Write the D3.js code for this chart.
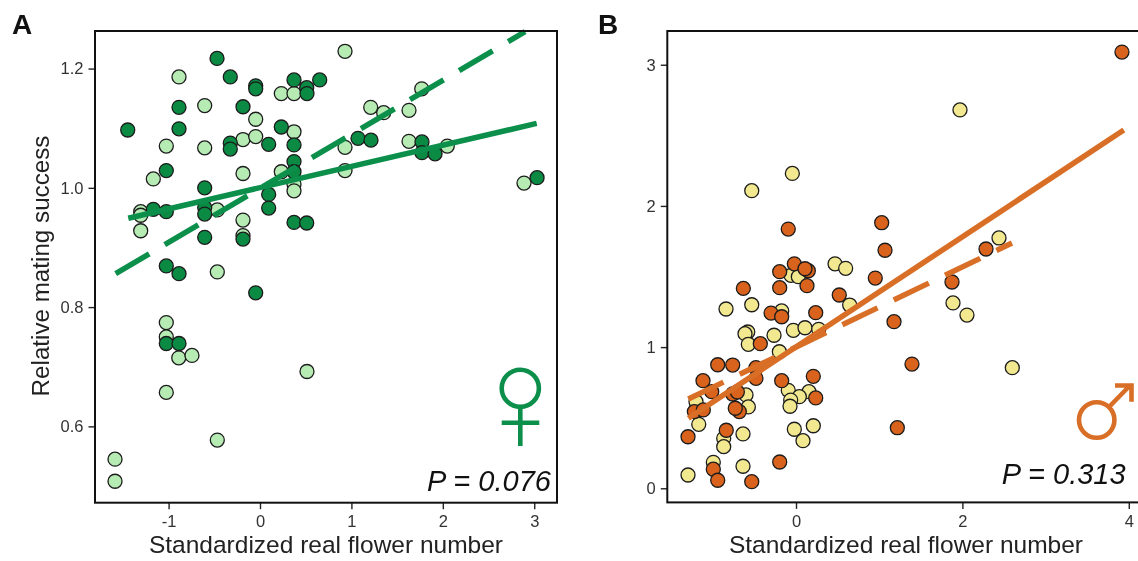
<!DOCTYPE html>
<html><head><meta charset="utf-8">
<script src="https://cdn.jsdelivr.net/npm/d3@7"></script>
<style>html,body{margin:0;padding:0;background:#fff;overflow:hidden}text{font-family:"Liberation Sans",Arial,sans-serif}svg{filter:blur(.35px)}</style>
</head><body><div id="c"></div>
<script>
const xTicksA=[-1,0,1,2,3], yTicksA=[0.6,0.8,1.0,1.2];
const xTicksB=[0,2,4], yTicksB=[0,1,2,3];
const xTitle="Standardized real flower number", yTitle="Relative mating success";

const femaleLight=[[-.886,1.186],[-.605,1.138],[-.047,1.115],[.233,1.158],[.372,1.158],[.372,1.094],[-.186,1.081],[-.047,1.086],[-1.025,1.07],[-.605,1.067],[-.186,1.024],[-1.167,1.015],[.233,1.027],[.372,1.006],[.372,.995],[-1.305,.96],[-1.305,.954],[-.467,.963],[-1.305,.928],[-.186,.946],[-.186,.92],[.93,1.229],[.93,1.068],[.93,1.029],[1.211,1.135],[1.353,1.126],[1.63,1.13],[1.769,1.166],[1.63,1.078],[2.049,1.07],[2.888,1.008],[-.467,.859],[-1.025,.774],[-1.025,.75],[-.889,.715],[-.744,.719],[.514,.692],[-1.025,.657],[-.467,.577],[-1.586,.545],[-1.586,.508]];
const femaleDark=[[-.47,1.217],[-.325,1.186],[-.047,1.171],[-.047,1.166],[.372,1.181],[.511,1.168],[.514,1.158],[.653,1.181],[-.886,1.135],[-.186,1.136],[-1.447,1.097],[-.886,1.099],[.233,1.102],[-.325,1.075],[-.325,1.065],[.095,1.073],[.372,1.072],[-1.025,1.029],[.372,1.044],[.372,1.027],[-.605,1.0],[.095,.989],[.095,.966],[-1.167,.964],[-1.025,.96],[-.605,.967],[-.605,.956],[.372,.942],[.511,.941],[-.605,.917],[-.186,.914],[-1.025,.869],[-.886,.856],[-.047,.824],[-1.025,.739],[-.886,.739],[1.072,1.083],[1.214,1.08],[1.772,1.077],[1.772,1.059],[1.915,1.057],[3.031,1.017]];
const femaleSolid=[[-1.441,.949],[3.027,1.108]];
const femaleDashed=[[-1.579,.856],[2.9,1.262]];

const maleLight=[[-.044,2.23],[-.532,2.108],[.469,1.59],[.597,1.558],[-.06,1.508],[.028,1.499],[-.841,1.27],[-.532,1.3],[-.172,1.256],[.645,1.298],[-.032,1.119],[.108,1.137],[.273,1.126],[-.264,1.084],[-.58,1.107],[-.613,1.095],[-.573,1.02],[-.2,.967],[-1.202,.613],[-.601,.661],[-.573,.576],[-.093,.694],[.156,.684],[.04,.649],[-.064,.625],[-.072,.581],[-1.169,.453],[-.637,.385],[-.869,.354],[-.869,.295],[-.02,.418],[.208,.443],[.084,.337],[-.994,.184],[-.637,.156],[-1.298,.094],[1.971,2.68],[1.887,1.313],[2.055,1.227],[2.44,1.773],[2.6,.854]];
const maleDark=[[-.093,1.836],[1.03,1.881],[1.07,1.686],[-.02,1.59],[.148,1.541],[.108,1.555],[-.196,1.534],[-.633,1.416],[-.196,1.421],[.132,1.435],[.953,1.489],[.52,1.369],[.237,1.244],[-.3,1.241],[-.172,1.215],[1.178,1.18],[-.429,1.024],[-.941,.875],[-.761,.873],[-.481,.854],[-1.118,.762],[-.481,.779],[-.172,.762],[.208,.793],[-1.013,.684],[-.761,.668],[-.705,.682],[.237,.64],[-1.222,.543],[-1.114,.555],[-.681,.543],[-.73,.567],[-.838,.411],[-1.298,.365],[-.994,.135],[-.941,.057],[-.532,.047],[-.196,.186],[1.394,.88],[1.218,.429],[1.875,1.461],[2.284,1.695],[3.918,3.09]];
const maleSolid=[[-1.294,.496],[3.94,2.538]];
const maleDashed=[[-1.294,.632],[2.596,1.737]];

const svg=d3.select("#c").append("svg").attr("width",1138).attr("height",561).style("display","block");

function panel(o){
  const x=d3.scaleLinear().domain(o.xd).range([o.l,o.r]);
  const y=d3.scaleLinear().domain(o.yd).range([o.b,o.t]);
  const g=svg.append("g");
  const ax=g.append("g").attr("transform",`translate(0,${o.b})`)
    .call(d3.axisBottom(x).tickValues(o.xt).tickSize(6.5).tickPadding(6).tickFormat(d3.format("d")));
  const ay=g.append("g").attr("transform",`translate(${o.l},0)`)
    .call(d3.axisLeft(y).tickValues(o.yt).tickSize(6.5).tickPadding(5).tickFormat(o.yf));
  [ax,ay].forEach(a=>{
    a.select(".domain").remove();
    a.selectAll("line").attr("stroke","#222").attr("stroke-width",1.4);
    a.selectAll("text").attr("fill","#333").style("font-size","16.5px").style("font-family",'"Liberation Sans",Arial,sans-serif');
    a.selectAll("text").text(function(){return this.textContent.replace("\u2212","-");});
  });
  const dots=(d,c)=>g.append("g").selectAll("circle").data(d).join("circle")
    .attr("cx",p=>x(p[0])).attr("cy",p=>y(p[1])).attr("r",7)
    .attr("fill",c).attr("stroke","#1c1c1c").attr("stroke-width",1.3);
  dots(o.light,o.cl); dots(o.dark,o.cd);
  const line=d3.line().x(p=>x(p[0])).y(p=>y(p[1]));
  g.append("path").attr("d",line(o.dashed)).attr("fill","none").attr("stroke",o.cs).attr("stroke-width",5.5).attr("stroke-dasharray","39 18");
  g.append("path").attr("d",line(o.solid)).attr("fill","none").attr("stroke",o.cs).attr("stroke-width",5.5);
  g.append("rect").attr("x",o.l).attr("y",o.t).attr("width",o.r-o.l).attr("height",o.b-o.t)
    .attr("fill","none").attr("stroke","#111").attr("stroke-width",2);
  g.append("text").attr("x",o.tx).attr("y",553).attr("text-anchor","middle").attr("fill","#222")
    .style("font-size","24.5px").text(xTitle);
  g.append("text").attr("x",o.px).attr("y",o.py).style("font-size","29px").style("font-style","italic").attr("fill","#111").text(o.p);
  g.append("text").attr("x",o.lx).attr("y",34).style("font-size","28px").style("font-weight","bold").attr("fill","#111").text(o.label);
}

panel({l:95,r:557,t:31,b:502.7,xd:[-1.805,3.249],yd:[.472,1.263],xt:xTicksA,yt:yTicksA,yf:d3.format(".1f"),
  light:femaleLight,dark:femaleDark,solid:femaleSolid,dashed:femaleDashed,cl:"#b6ebb4",cd:"#0a8a43",cs:"#0b8f4b",
  tx:326,px:427,py:490.7,p:"P = 0.076",lx:12,label:"A"});
panel({l:667.3,r:1150,t:31,b:502.4,xd:[-1.547,4.255],yd:[-.1,3.239],xt:xTicksB,yt:yTicksB,yf:d3.format("d"),
  light:maleLight,dark:maleDark,solid:maleSolid,dashed:maleDashed,cl:"#f2e88f",cd:"#d9631c",cs:"#d96e26",
  tx:906,px:1001.7,py:484,p:"P = 0.313",lx:598,label:"B"});

svg.append("text").attr("transform","translate(49,266) rotate(-90)").attr("text-anchor","middle")
  .attr("fill","#222").style("font-size","24.2px").text(yTitle);

const fem=svg.append("g").attr("fill","none").attr("stroke","#0b8f4b").attr("stroke-width",4.6);
fem.append("circle").attr("cx",520.3).attr("cy",388.3).attr("r",18.6);
fem.append("path").attr("d","M520.3 407V446M501.7 422.7H539.3");
const mal=svg.append("g").attr("fill","none").attr("stroke","#d96e26").attr("stroke-width",4.6);
mal.append("circle").attr("cx",1096.7).attr("cy",420).attr("r",17.7);
mal.append("path").attr("d","M1108.5 407.5L1130 385.5M1115 385.5H1131.5V401.7");
</script></body></html>
